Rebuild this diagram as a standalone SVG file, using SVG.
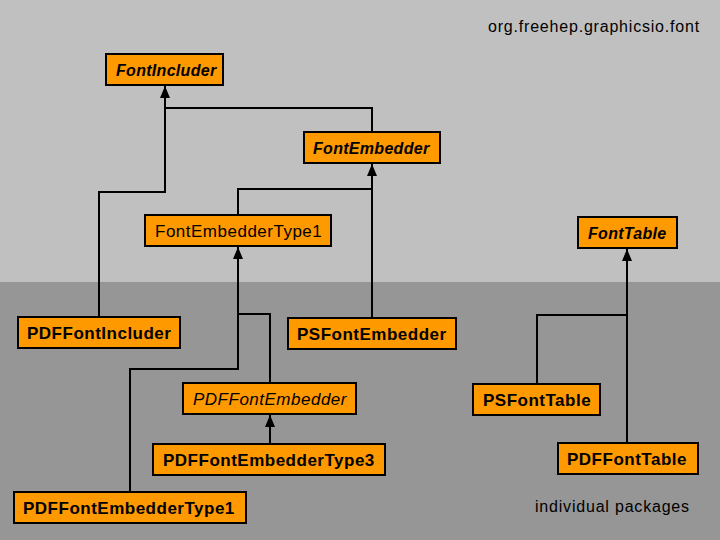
<svg xmlns="http://www.w3.org/2000/svg" width="720" height="540" viewBox="0 0 720 540">
<style>
.box{fill:#ff9900;stroke:#000;stroke-width:2}
.t{font-family:"Liberation Sans",Arial,sans-serif;font-size:17px;fill:#000;letter-spacing:0.5px}
.b{font-weight:bold}
.i{font-style:italic}
.bi{font-size:16px;letter-spacing:0.3px}
.lbl{font-family:"Liberation Sans",Arial,sans-serif;font-size:16px;fill:#000;letter-spacing:0.8px}
.c{fill:none;stroke:#000;stroke-width:2}
</style>
<defs>
<marker id="ah" markerWidth="12" markerHeight="10" refX="12" refY="5" orient="auto" markerUnits="userSpaceOnUse" viewBox="0 0 12 10">
<path d="M0,0 L12,5 L0,10 Z" fill="#000"/>
</marker>
</defs>
<rect x="0" y="0" width="720" height="282" fill="#c0c0c0"/>
<rect x="0" y="282" width="720" height="258" fill="#969696"/>
<text class="lbl" x="488" y="32">org.freehep.graphicsio.font</text>
<text class="lbl" x="535" y="512">individual packages</text>
<g id="connectors">
<path class="c" d="M99,317 V192 H165 V86" marker-end="url(#ah)"/>
<path class="c" d="M372,131 V108 H165"/>
<path class="c" d="M372,317 V164" marker-end="url(#ah)"/>
<path class="c" d="M238,214 V189 H372"/>
<path class="c" d="M130,491 V369 H238 V247" marker-end="url(#ah)"/>
<path class="c" d="M270,383 V314 H238"/>
<path class="c" d="M270,443 V415" marker-end="url(#ah)"/>
<path class="c" d="M627,443 V249" marker-end="url(#ah)"/>
<path class="c" d="M537,384 V315 H627"/>
</g>
<g id="FontIncluder"><rect class="box" x="106" y="54" width="117" height="31"/><text class="t b i bi" x="116" y="76">FontIncluder</text></g>
<g id="FontEmbedder"><rect class="box" x="304" y="132" width="136" height="31"/><text class="t b i bi" x="313" y="154">FontEmbedder</text></g>
<g id="FontEmbedderType1"><rect class="box" x="145" y="215" width="186" height="31"/><text class="t" x="155" y="237">FontEmbedderType1</text></g>
<g id="PDFFontIncluder"><rect class="box" x="18" y="317" width="162" height="31"/><text class="t b" x="27" y="339">PDFFontIncluder</text></g>
<g id="PSFontEmbedder"><rect class="box" x="288" y="318" width="168" height="31"/><text class="t b" x="297" y="340">PSFontEmbedder</text></g>
<g id="PDFFontEmbedder"><rect class="box" x="183" y="383" width="173" height="31"/><text class="t i" x="193" y="405">PDFFontEmbedder</text></g>
<g id="PDFFontEmbedderType3"><rect class="box" x="153" y="444" width="232" height="31"/><text class="t b" x="163" y="466">PDFFontEmbedderType3</text></g>
<g id="PDFFontEmbedderType1"><rect class="box" x="14" y="492" width="232" height="31"/><text class="t b" x="23" y="514">PDFFontEmbedderType1</text></g>
<g id="FontTable"><rect class="box" x="578" y="217" width="99" height="31"/><text class="t b i bi" x="588" y="239">FontTable</text></g>
<g id="PSFontTable"><rect class="box" x="473" y="384" width="127" height="31"/><text class="t b" x="483" y="406">PSFontTable</text></g>
<g id="PDFFontTable"><rect class="box" x="558" y="443" width="140" height="31"/><text class="t b" x="567" y="465">PDFFontTable</text></g>
</svg>
